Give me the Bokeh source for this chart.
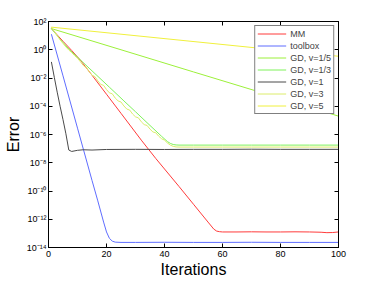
import numpy as np
from bokeh.plotting import figure
from bokeh.models import (FixedTicker, LinearAxis, LogAxis, Legend, LegendItem,
                          CustomJSTickFormatter)
from bokeh.embed import file_html
from bokeh.resources import INLINE

# ---- data (log10 of the error) ----
mm_x = [1, 3, 5, 8, 11, 15, 20, 25, 32, 37, 45, 50, 55, 57, 58, 59, 60, 65, 70, 75, 80, 85, 90, 94, 96, 98, 100]
mm_e = [1.5, 1.05, 0.6, -0.05, -0.74, -1.8, -3.15, -4.5, -6.4, -7.7, -9.68, -10.94, -12.2, -12.7, -12.84, -12.88,
        -12.9, -12.9, -12.89, -12.9, -12.9, -12.89, -12.9, -12.92, -12.95, -12.94, -12.9]

tb_x = [1, 5, 10, 15, 17, 19, 20, 21, 22, 23, 25, 30, 40, 50, 60, 70, 80, 90, 100]
tb_e = [1.1, -1.85, -5.55, -9.25, -10.7, -12.2, -12.9, -13.35, -13.55, -13.62, -13.64, -13.64, -13.63,
        -13.64, -13.64, -13.63, -13.64, -13.64, -13.64]

gd15_x = [1, 25, 50, 75, 100]
gd15_e = [1.5, 0.0, -1.57, -3.13, -4.7]

gd13_x = [1, 4, 7, 14, 21, 26, 30, 35, 39, 41, 42, 43, 44, 45, 50, 60, 70, 80, 90, 100]
gd13_e = [1.5, 0.75, 0.05, -1.3, -2.65, -3.62, -4.39, -5.36, -6.13, -6.5, -6.63, -6.71, -6.74, -6.75,
          -6.75, -6.75, -6.75, -6.75, -6.75, -6.75]

gd1_x = [1, 2, 3, 4, 5, 6, 7, 8, 10, 12, 15, 20, 30, 40, 50, 60, 70, 80, 90, 100]
gd1_e = [-0.86, -1.95, -3.0, -4.0, -4.95, -5.95, -7.1, -7.2, -7.12, -7.08, -7.1, -7.06, -7.05, -7.06,
         -7.05, -7.05, -7.04, -7.05, -7.05, -7.05]

gd3_x = list(range(1, 46)) + [50, 60, 70, 80, 90, 100]
gd3_e = [1.6, 1.3, 1.0, 0.7, 0.45, 0.2, -0.02, -0.2, -0.42, -0.6,
         -0.85, -1.12, -1.25, -1.55, -1.8, -1.9, -2.2, -2.45, -2.52, -2.82,
         -3.05, -3.12, -3.42, -3.62, -3.7, -3.98, -4.2, -4.27, -4.55, -4.75,
         -4.82, -5.1, -5.3, -5.36, -5.62, -5.82, -5.88, -6.12, -6.3, -6.4,
         -6.6, -6.75, -6.84, -6.88, -6.89,
         -6.89, -6.89, -6.89, -6.89, -6.89, -6.89]

gd5_x = [1, 100]
gd5_e = [1.6, -0.46]

labels = ["MM", "toolbox", "GD, v=1/5", "GD, v=1/3", "GD, v=1", "GD, v=3", "GD, v=5"]
colors = ["#ff3b3b", "#5f6dff", "#9cf03a", "#7ef25a", "#4a4a4a", "#dcec6a", "#f0f03c"]
series = [(mm_x, mm_e), (tb_x, tb_e), (gd15_x, gd15_e), (gd13_x, gd13_e),
          (gd1_x, gd1_e), (gd3_x, gd3_e), (gd5_x, gd5_e)]

x_ticks = [0, 20, 40, 60, 80, 100]
y_ticks = [1e2, 1e0, 1e-2, 1e-4, 1e-6, 1e-8, 1e-10, 1e-12, 1e-14]

FONT = "Liberation Sans"

p = figure(width=366, height=280, y_axis_type="log", x_range=(0, 100), y_range=(1e-14, 1e2),
           output_backend="svg", toolbar_location=None,
           min_border_left=48, min_border_right=28, min_border_top=21, min_border_bottom=0)
p.xgrid.visible = False
p.ygrid.visible = False
p.outline_line_color = "black"
p.outline_line_width = 1
p.background_fill_color = "white"
p.border_fill_color = "white"

renderers = []
for (xs, es), c in zip(series, colors):
    r = p.line(xs, list(10.0 ** np.array(es)), line_color=c, line_width=1)
    renderers.append(r)

sup_js = """
const sup = {"-":"\u207b","0":"\u2070","1":"\u00b9","2":"\u00b2","3":"\u00b3","4":"\u2074",
             "5":"\u2075","6":"\u2076","7":"\u2077","8":"\u2078","9":"\u2079"};
const e = Math.round(Math.log10(tick));
return "10" + String(e).split("").map(c => sup[c]).join("");
"""

def style(ax):
    ax.major_tick_in = 4
    ax.major_tick_out = 0
    ax.minor_tick_line_color = None
    ax.axis_line_color = "black"
    ax.major_tick_line_color = "black"
    ax.major_label_text_font = FONT
    ax.major_label_text_font_size = "9px"
    ax.major_label_text_color = "black"
    ax.axis_label_text_font = FONT
    ax.axis_label_text_font_style = "normal"
    ax.axis_label_text_font_size = "16px"
    ax.axis_label_text_color = "black"

xa = p.xaxis[0]
style(xa)
xa.ticker = FixedTicker(ticks=x_ticks)
xa.axis_label = "Iterations"
xa.major_label_standoff = 3
xa.axis_label_standoff = 1

ya = p.yaxis[0]
style(ya)
ya.ticker = FixedTicker(ticks=y_ticks)
ya.formatter = CustomJSTickFormatter(code=sup_js)
ya.axis_label = "Error"
ya.major_label_standoff = 2
ya.axis_label_standoff = 2

blank = "return '';"
top = LinearAxis(ticker=FixedTicker(ticks=x_ticks), formatter=CustomJSTickFormatter(code=blank))
style(top)
top.major_label_standoff = 0
p.add_layout(top, "above")
right = LogAxis(ticker=FixedTicker(ticks=y_ticks), formatter=CustomJSTickFormatter(code=blank))
style(right)
right.major_label_standoff = 0
p.add_layout(right, "right")

legend = Legend(items=[LegendItem(label=l, renderers=[r]) for l, r in zip(labels, renderers)],
                location="top_right")
legend.label_text_font = FONT
legend.label_text_font_size = "9px"
legend.glyph_width = 29
legend.glyph_height = 11
legend.label_height = 11
legend.label_standoff = 4
legend.spacing = 1
legend.padding = 2
legend.margin = 4
legend.border_line_color = "black"
legend.border_line_width = 1
legend.background_fill_alpha = 1
p.add_layout(legend)

open("out.html", "w").write(file_html(p, INLINE))
